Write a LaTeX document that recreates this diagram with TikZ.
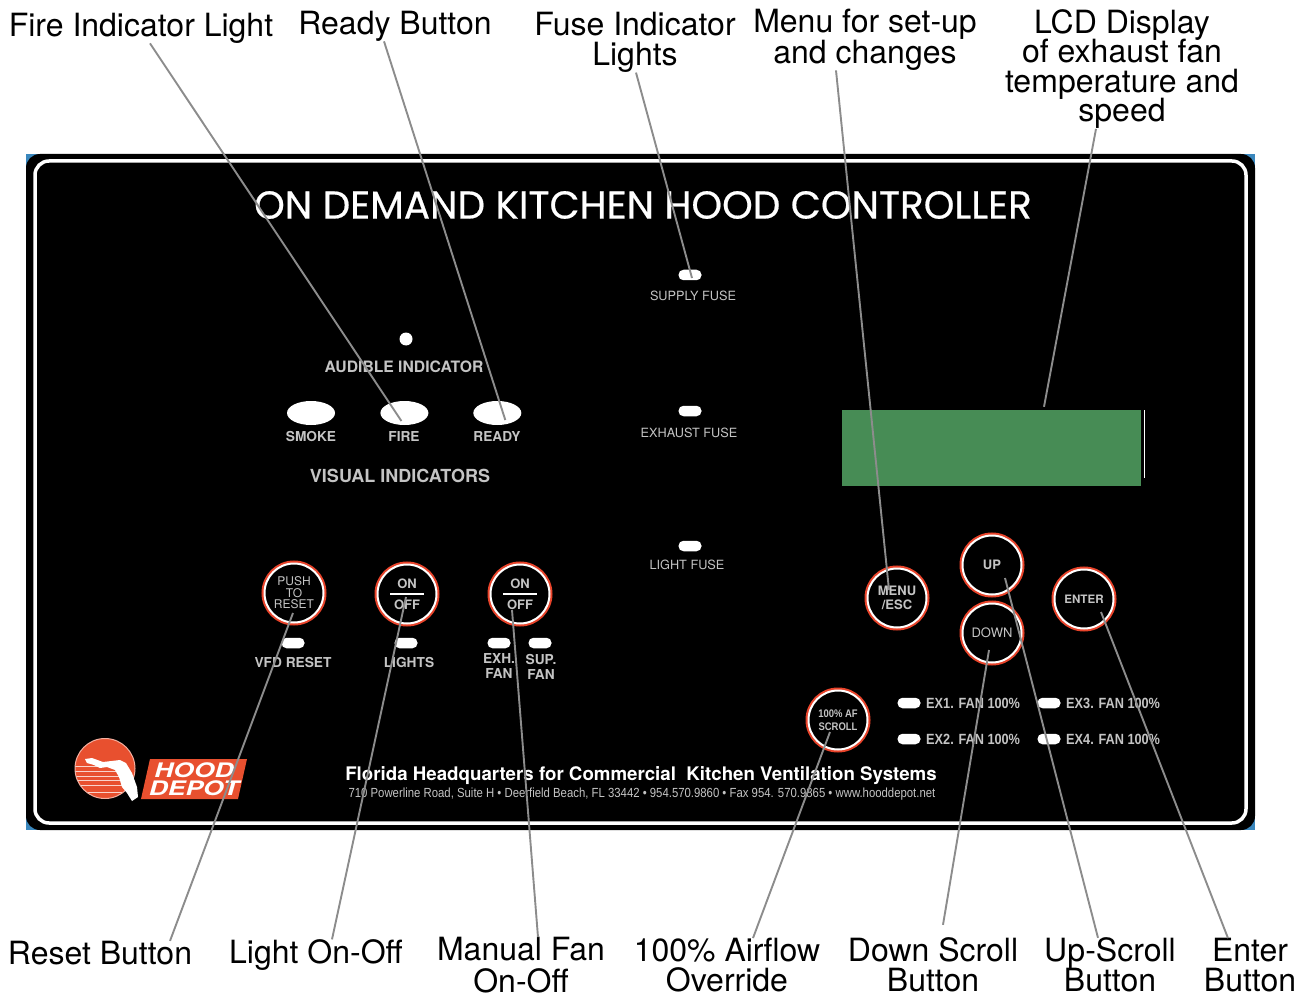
\documentclass[tikz,border=0pt]{standalone}
\usepackage{fontspec}
\setmainfont{TeX Gyre Heros}
\newfontfamily\titlefont[FakeBold=0.5]{Poppins}
\newfontfamily\narrowfont[FakeStretch=0.86]{Liberation Sans}
\newcommand{\calloutfont}{\fontsize{32}{29.5}\selectfont\lineskiplimit=-20pt\relax}
\usetikzlibrary{positioning,shapes.geometric}
\definecolor{cornerblue}{HTML}{3A87BD}
\definecolor{lcdgreen}{HTML}{478C55}
\definecolor{ringred}{HTML}{E8432A}
\definecolor{logored}{HTML}{E8502F}
\definecolor{leadgray}{HTML}{8C8C8C}
\definecolor{faintwhite}{HTML}{C4C4C4}

\begin{document}
\begin{tikzpicture}[x=1pt,y=-1pt,
    callout/.style={inner sep=0pt,align=center,font=\calloutfont,text=black},
    lead/.style={draw=leadgray,line width=1.9pt},
    push/.style={circle,fill=black,draw=white,line width=2pt,minimum size=59pt,inner sep=0pt,
      preaction={draw=ringred,line width=6pt},text=faintwhite,align=center},
    lamp/.style={ellipse,fill=white,minimum width=48pt,minimum height=24pt,inner sep=0pt},
    pill/.style={rectangle,rounded corners=5pt,fill=white,minimum width=23pt,minimum height=10.5pt,inner sep=0pt},
    caption/.style={inner sep=0pt,align=center,text=faintwhite,font=\bfseries\fontsize{13.7}{15}\selectfont},
    thincap/.style={inner sep=0pt,align=center,text=faintwhite,font=\fontsize{12.7}{14}\selectfont},
    fancap/.style={inner sep=0pt,anchor=west,text=faintwhite,font=\narrowfont\bfseries\fontsize{14.8}{15}\selectfont}]
  \useasboundingbox (0,0) rectangle (1299,995);

  \fill[cornerblue] (26,154) rectangle (1255,830);
  \fill[black,rounded corners=14pt] (26,154) rectangle (1255,830);
  \draw[white,line width=3.5pt,rounded corners=14pt] (35,161) rectangle (1246,823);

  \node[inner sep=0pt,text=white,font=\titlefont\fontsize{39}{39}\selectfont] (title) at (643,205) {ON DEMAND KITCHEN HOOD CONTROLLER};

  \node[circle,fill=white,minimum size=13pt,inner sep=0pt] (dotAudible) at (406,339) {};
  \node[caption,font=\bfseries\fontsize{15.7}{16}\selectfont] (capAudible) at (404,367) {AUDIBLE INDICATOR};
  \node[lamp] (lampSmoke) at (311,413) {};
  \node[lamp] (lampFire) [right=45pt of lampSmoke] {};
  \node[lamp] (lampReady) [right=44.5pt of lampFire] {};
  \node[caption] (capSmoke) at (311,437) {SMOKE};
  \node[caption] (capFire) at (404,437) {FIRE};
  \node[caption] (capReady) at (497,437) {READY};
  \node[caption,font=\bfseries\fontsize{18}{18}\selectfont] (capVisual) at (400,476) {VISUAL INDICATORS};

  \node[pill] (ledSupply) at (690,275) {};
  \node[pill] (ledExhaust) at (690,411) {};
  \node[pill] (ledLight) at (690,546) {};
  \node[thincap] (capSupply) at (693,296) {SUPPLY FUSE};
  \node[thincap] (capExhaust) at (689,433) {EXHAUST FUSE};
  \node[thincap] (capLight) at (687,565) {LIGHT FUSE};

  \node[fill=lcdgreen,minimum width=299pt,minimum height=76pt,inner sep=0pt] (lcd) at (991.5,448) {};
  \draw[white,line width=1pt] (1144,410) -- (1144,478);

  \node[push,font=\fontsize{12}{11.5}\selectfont] (btnReset) at (294,593) {PUSH\\TO\\RESET};
  \node[push,font=\bfseries\fontsize{13}{21}\selectfont] (btnLight) at (407,594) {ON\\OFF};
  \node[push,font=\bfseries\fontsize{13}{21}\selectfont] (btnFan) at (520,594) {ON\\OFF};
  \draw[white,line width=2pt] ([xshift=-17pt]btnLight.center) -- ([xshift=17pt]btnLight.center);
  \draw[white,line width=2pt] ([xshift=-17pt]btnFan.center) -- ([xshift=17pt]btnFan.center);
  \node[push,font=\bfseries\fontsize{13}{14}\selectfont] (btnMenu) at (897,598) {\raisebox{-2.5pt}{MENU}\\\raisebox{-2pt}{/ESC}};
  \node[push,font=\bfseries\fontsize{13}{13}\selectfont] (btnUp) at (992,565) {UP};
  \node[push,font=\fontsize{13}{13}\selectfont] (btnDown) at (992,633) {DOWN};
  \node[push,font=\bfseries\fontsize{11.6}{13}\selectfont] (btnEnter) at (1084,599) {ENTER};
  \node[push,font=\narrowfont\bfseries\fontsize{11}{12.5}\selectfont] (btnScroll) at (838,720) {100\% AF\\SCROLL};

  \node[pill] (ledReset) at (293,643) {};
  \node[pill] (ledLights) at (406,643) {};
  \node[pill] (ledExh) at (499,643) {};
  \node[pill] (ledSup) at (540,643) {};
  \node[caption] (capReset) at (293,663) {VFD RESET};
  \node[caption] (capLights) at (409,663) {LIGHTS};
  \node[caption] (capExh) at (499,666.5) {EXH.\\FAN};
  \node[caption] (capSup) at (541,666.5) {SUP.\\FAN};

  \node[pill] (ledOne) at (909,703) {};
  \node[pill] (ledTwo) at (909,739) {};
  \node[pill] (ledThree) at (1049,703) {};
  \node[pill] (ledFour) at (1049,739) {};
  \node[fancap] (capOne) at (926,703) {EX1. FAN 100\%};
  \node[fancap] (capTwo) at (926,739) {EX2. FAN 100\%};
  \node[fancap] (capThree) at (1066,703) {EX3. FAN 100\%};
  \node[fancap] (capFour) at (1066,739) {EX4. FAN 100\%};

  \begin{scope}
    \clip (105,768.5) circle (30);
    \fill[logored] (105,768.5) circle (30);
    \foreach \y in {766,771,776,780,785,792}
      \draw[white!75!logored,line width=0.9pt] (70,\y) -- (122,\y);
  \end{scope}
  \draw[white!55!logored,line width=1pt] (105,768.5) circle (30);
  \fill[white] (85,759) -- (92,758) -- (103,762) -- (120,760) -- (126,763) -- (132,773) -- (137,787) -- (138,797) -- (132,801) -- (127,793) -- (122,787) -- (119,777) -- (115,770) -- (107,767) -- (100,768) -- (94,765) -- (87,763) -- cycle;
  \fill[logored] (150,759) -- (247,759) -- (238,799) -- (141,799) -- cycle;
  \node[inner sep=0pt,text=white,align=center,font=\bfseries\itshape\fontsize{20}{18.5}\selectfont] (logoText) at (194,779) {\scalebox{1.32}[1]{HOOD}\\\scalebox{1.32}[1]{DEPOT}};

  \node[inner sep=0pt,text=white,font=\bfseries\fontsize{18.7}{19}\selectfont] (footHead) at (641,776) {Florida Headquarters for Commercial\ \ Kitchen Ventilation Systems};
  \node[inner sep=0pt,text=faintwhite,font=\narrowfont\fontsize{13.2}{13}\selectfont] (footAddr) at (642,794) {710 Powerline Road, Suite H • Deerfield Beach, FL 33442 • 954.570.9860 • Fax 954. 570.9865 • www.hooddepot.net};

  \node[callout] (lblFire) at (141,28) {Fire Indicator Light};
  \node[callout] (lblReady) at (395,26) {Ready Button};
  \node[callout] (lblFuse) at (635,42.5) {Fuse Indicator\\Lights};
  \node[callout] (lblMenu) at (865,39.5) {Menu for set-up\\[1.5pt]and changes};
  \node[callout] (lblLcd) at (1122,69) {LCD Display\\of exhaust fan\\temperature and\\speed};
  \node[callout] (lblReset) at (100,953) {Reset Button};
  \node[callout] (lblLight) at (316,955) {Light On-Off};
  \node[callout] (lblFan) at (521,965) {Manual Fan\\[2pt]On-Off};
  \node[callout] (lblScroll) at (727,965) {100\% Airflow\\Override};
  \node[callout] (lblDown) at (933,965) {Down Scroll\\Button};
  \node[callout] (lblUp) at (1110,965) {Up-Scroll\\Button};
  \node[callout] (lblEnter) at (1250,965) {Enter\\Button};

  \path[lead]
    ([xshift=9pt]lblFire.south) edge ([xshift=-3pt,yshift=-8pt]lampFire.center)
    ([xshift=-11pt]lblReady.south) edge ([xshift=8pt,yshift=-7pt]lampReady.center)
    ([xshift=1pt]lblFuse.south) edge ([xshift=2pt,yshift=-3pt]ledSupply.center)
    ([xshift=-29pt]lblMenu.south) edge ([xshift=-8pt,yshift=8pt]btnMenu.center)
    ([xshift=-26pt]lblLcd.south) edge ([xshift=52.5pt,yshift=3pt]lcd.north)
    ([xshift=70pt]lblReset.north) edge ([xshift=-1pt,yshift=-20pt]btnReset.center)
    ([xshift=16pt]lblLight.north) edge ([xshift=-1pt,yshift=-3pt]btnLight.center)
    ([xshift=17pt]lblFan.north) edge ([xshift=-8pt,yshift=-16pt]btnFan.center)
    ([xshift=26pt]lblScroll.north) edge ([xshift=-8pt,yshift=-12pt]btnScroll.center)
    ([xshift=10pt,yshift=13pt]lblDown.north) edge ([xshift=-3pt,yshift=-17pt]btnDown.center)
    ([xshift=-12pt]lblUp.north) edge ([xshift=13pt,yshift=-13pt]btnUp.center)
    ([xshift=-22pt]lblEnter.north) edge ([xshift=17pt,yshift=-13pt]btnEnter.center);
\end{tikzpicture}
\end{document}
